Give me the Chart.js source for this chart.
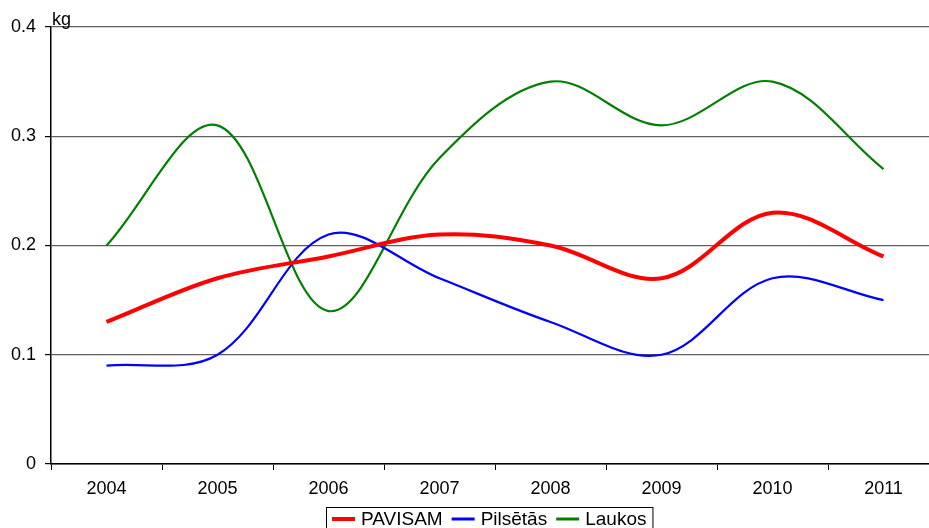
<!DOCTYPE html>
<html>
<head>
<meta charset="utf-8">
<script src="https://cdn.jsdelivr.net/npm/chart.js@4/dist/chart.umd.min.js"></script>
<style>
html,body{margin:0;padding:0;overflow:hidden;background:#fff;width:929px;height:528px;}
canvas{display:block;}
</style>
</head>
<body>
<canvas id="c" width="941" height="528"></canvas>
<script>
const years = ['2004','2005','2006','2007','2008','2009','2010','2011'];
const pavisam = [0.13, 0.17, 0.19, 0.21, 0.20, 0.17, 0.23, 0.19];
const pilsetas = [0.09, 0.10, 0.21, 0.17, 0.13, 0.10, 0.17, 0.15];
const laukos = [0.20, 0.31, 0.14, 0.28, 0.35, 0.31, 0.35, 0.27];
const unitLabel = 'kg';
const FONT = '"Liberation Sans", Arial, sans-serif';

const extras = {
  id: 'extras',
  afterDraw(chart) {
    const ctx = chart.ctx;
    const ca = chart.chartArea;
    ctx.save();
    ctx.font = '18px ' + FONT;
    ctx.fillStyle = '#000';
    ctx.textBaseline = 'alphabetic';
    ctx.textAlign = 'left';
    ctx.fillText(unitLabel, ca.left + 1, ca.top - 2);
    // legend
    ctx.font = '19px ' + FONT;
    const items = chart.data.datasets.map(d => ({label: d.label, color: d.borderColor, w: d.borderWidth}));
    const sample = 23, gap1 = 6, gap2 = 9, padL = 6, padR = 6;
    let total = padL + padR;
    items.forEach((it, i) => {
      total += sample + gap1 + ctx.measureText(it.label).width + (i < items.length - 1 ? gap2 : 0);
    });
    const left = 326, top = 507, h = 26;
    ctx.strokeStyle = '#000';
    ctx.lineWidth = 1;
    ctx.strokeRect(left + 0.5, top + 0.5, total, h);
    let x = left + padL;
    const cy = top + 12;
    items.forEach((it, i) => {
      ctx.beginPath();
      ctx.strokeStyle = it.color;
      ctx.lineWidth = it.w >= 3 ? 4 : 3;
      ctx.moveTo(x, cy);
      ctx.lineTo(x + sample, cy);
      ctx.stroke();
      x += sample + gap1;
      ctx.fillStyle = '#000';
      ctx.textBaseline = 'middle';
      ctx.fillText(it.label, x, cy + 1);
      x += ctx.measureText(it.label).width + gap2;
    });
    ctx.restore();
  }
};

new Chart(document.getElementById('c'), {
  type: 'line',
  data: {
    labels: years,
    datasets: [
      {label: 'PAVISAM', data: pavisam, borderColor: '#ff0000', borderWidth: 4, pointRadius: 0, tension: 0.35, fill: false},
      {label: 'Pilsētās', data: pilsetas, borderColor: '#0000ff', borderWidth: 2.2, pointRadius: 0, tension: 0.35, fill: false},
      {label: 'Laukos', data: laukos, borderColor: '#008000', borderWidth: 2.2, pointRadius: 0, tension: 0.35, fill: false}
    ]
  },
  options: {
    responsive: false,
    animation: false,
    devicePixelRatio: 1,
    layout: {padding: {top: 27, right: 2, left: 0, bottom: 0}},
    plugins: {legend: {display: false}, tooltip: {enabled: false}},
    scales: {
      x: {
        offset: true,
        afterFit(s) { s.height = 64; },
        grid: {offset: true, drawOnChartArea: false, drawTicks: true, tickLength: 6, tickColor: '#000', tickWidth: 1},
        border: {color: '#000', width: 1.5},
        ticks: {color: '#000', font: {family: FONT, size: 18}, padding: 8, maxRotation: 0}
      },
      y: {
        min: 0, max: 0.4,
        afterFit(s) { s.width = 51; },
        grid: {color: '#606060', lineWidth: 1.2, drawTicks: true, tickLength: 6, tickColor: '#000'},
        border: {color: '#000', width: 1.5},
        ticks: {stepSize: 0.1, color: '#000', font: {family: FONT, size: 18}, padding: 9}
      }
    }
  },
  plugins: [extras]
});
</script>
</body>
</html>
